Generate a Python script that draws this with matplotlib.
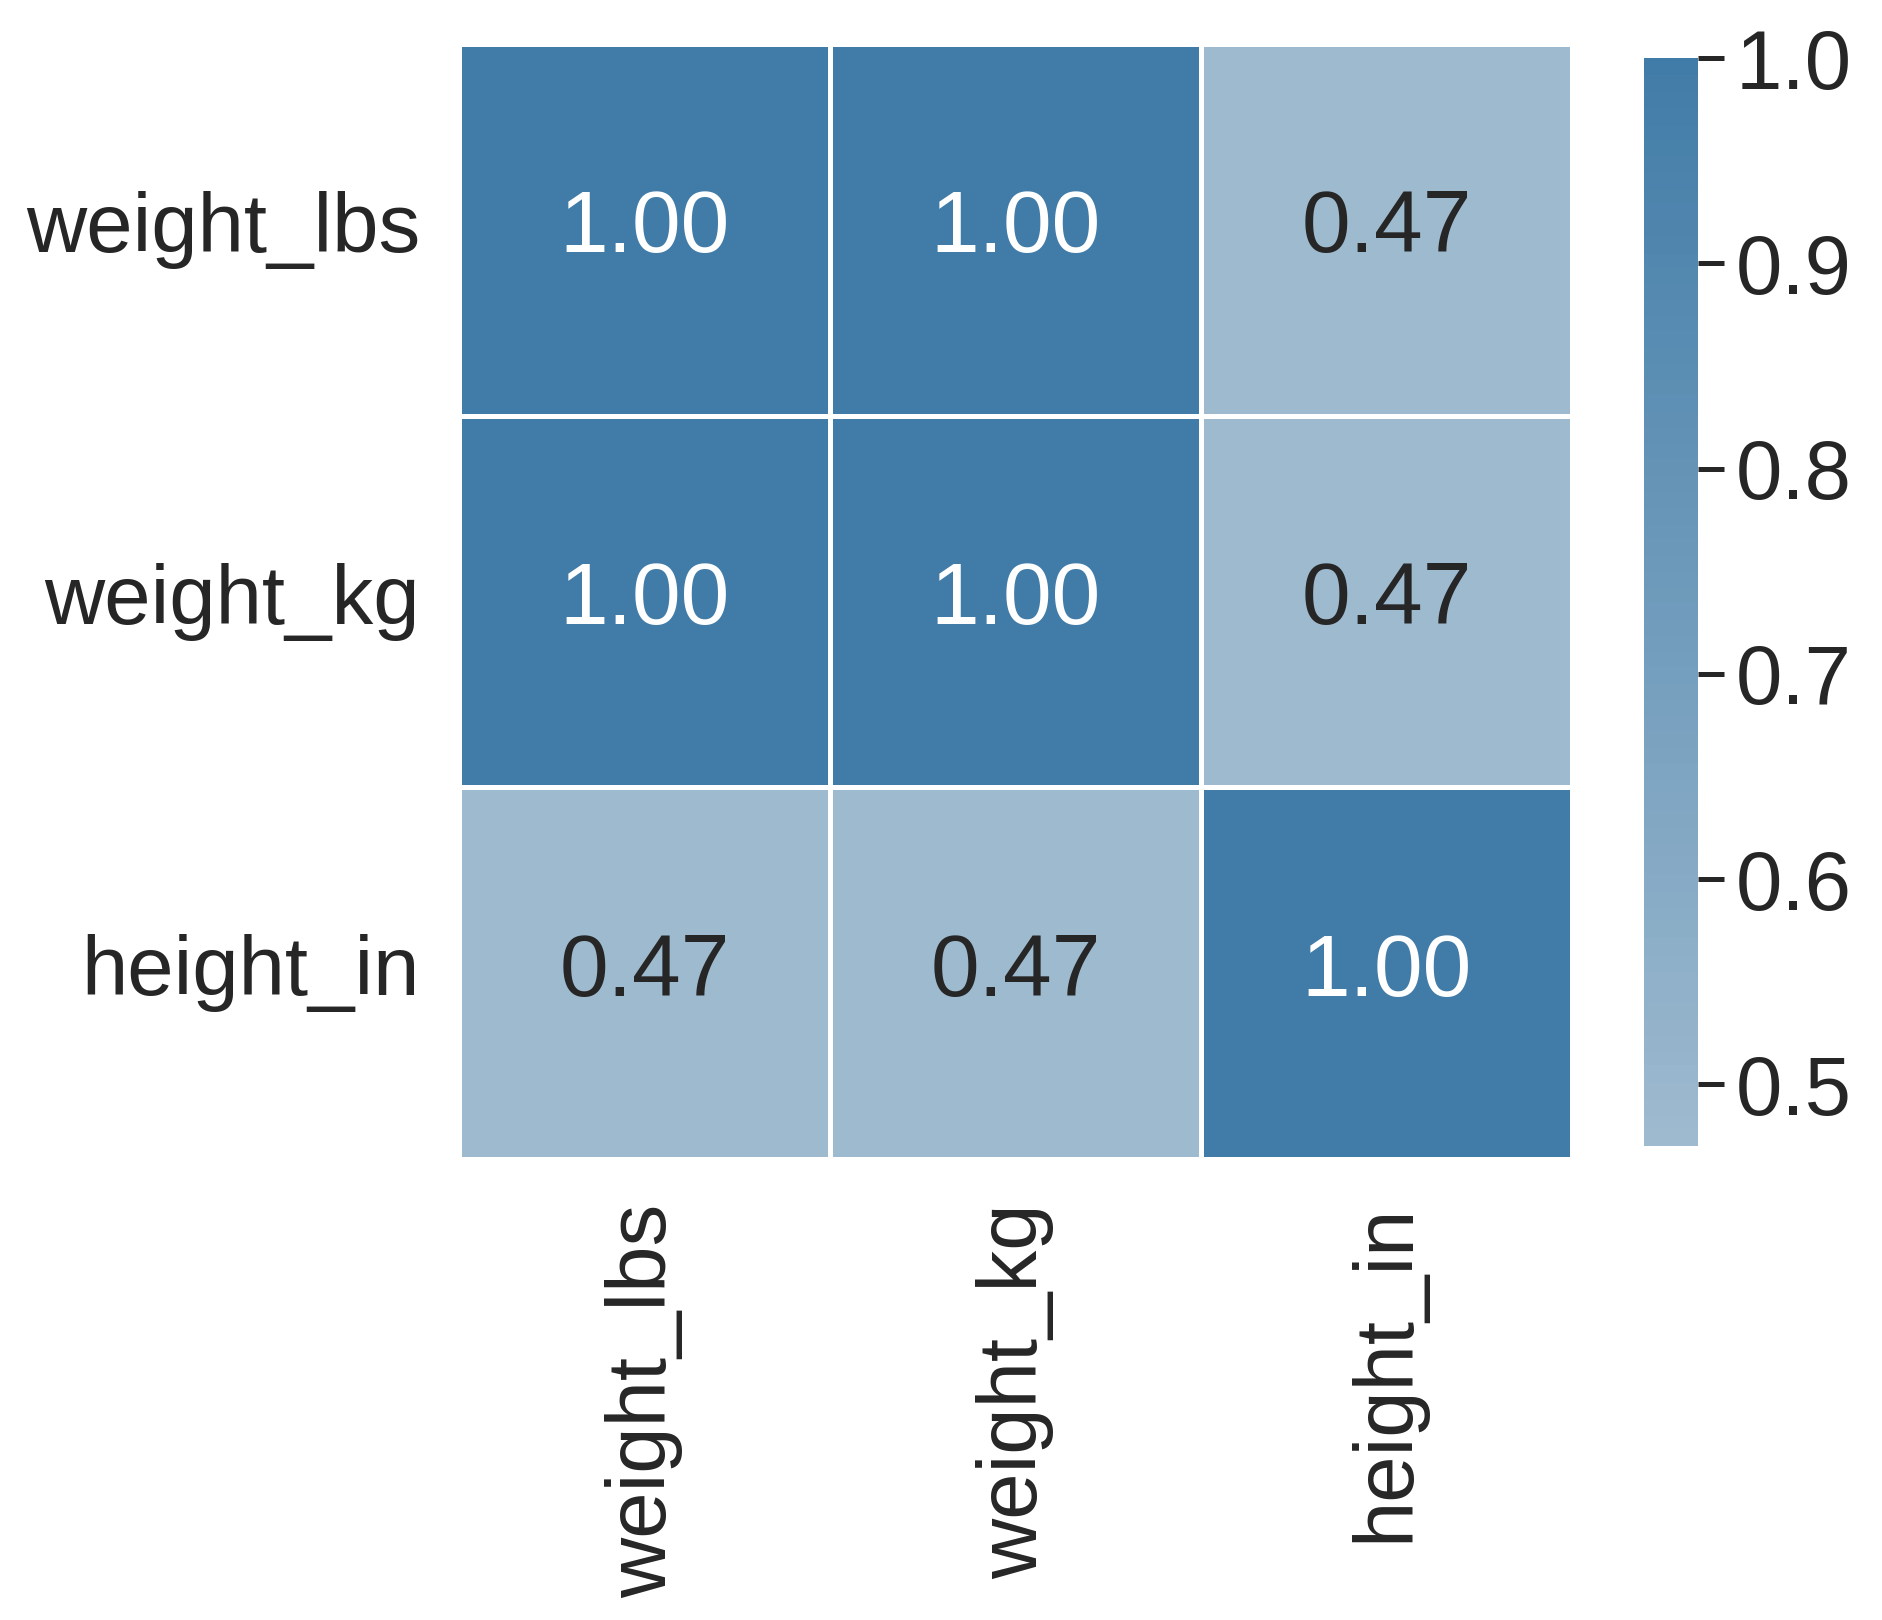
import numpy as np
import pandas as pd
import seaborn as sns
import matplotlib
matplotlib.use("Agg")
import matplotlib.pyplot as plt

# correlation matrix
labels = ["weight_lbs", "weight_kg", "height_in"]
corr_values = [
    [1.00, 1.00, 0.47],
    [1.00, 1.00, 0.47],
    [0.47, 0.47, 1.00],
]
cbar_ticks = [0.5, 0.6, 0.7, 0.8, 0.9, 1.0]

sns.set_theme(style="white")
plt.rcParams["font.family"] = ["Liberation Sans", "DejaVu Sans"]
plt.rcParams["text.color"] = "#262626"
plt.rcParams["xtick.color"] = "#262626"
plt.rcParams["ytick.color"] = "#262626"

corr = pd.DataFrame(corr_values, index=labels, columns=labels)

W, H = 1883, 1620
fig = plt.figure(figsize=(W / 200, H / 200), dpi=200)
ax = fig.add_axes([459 / W, 1 - 1159 / H, (1572 - 459) / W, (1159 - 44) / H])
cax = fig.add_axes([1644 / W, 1 - 1146 / H, 54 / W, (1146 - 58) / H])

cmap = sns.diverging_palette(10, 240, as_cmap=True)
sns.heatmap(corr, ax=ax, cbar_ax=cax, cmap=cmap, center=0, annot=True, fmt=".2f",
            linewidths=1.8, linecolor="white", square=False,
            annot_kws={"size": 31.5})

ax.tick_params(axis="both", length=0, labelsize=30)
ax.tick_params(axis="y", pad=14)
ax.tick_params(axis="x", pad=16)
ax.set_yticklabels(labels, rotation=0)
ax.set_xticklabels(labels, rotation=90)

cax.set_yticks(cbar_ticks)
cax.tick_params(axis="y", length=9.5, width=1.8, pad=4, labelsize=30, right=True)
for s in cax.spines.values():
    s.set_visible(False)

fig.savefig("out.png", dpi=200)
